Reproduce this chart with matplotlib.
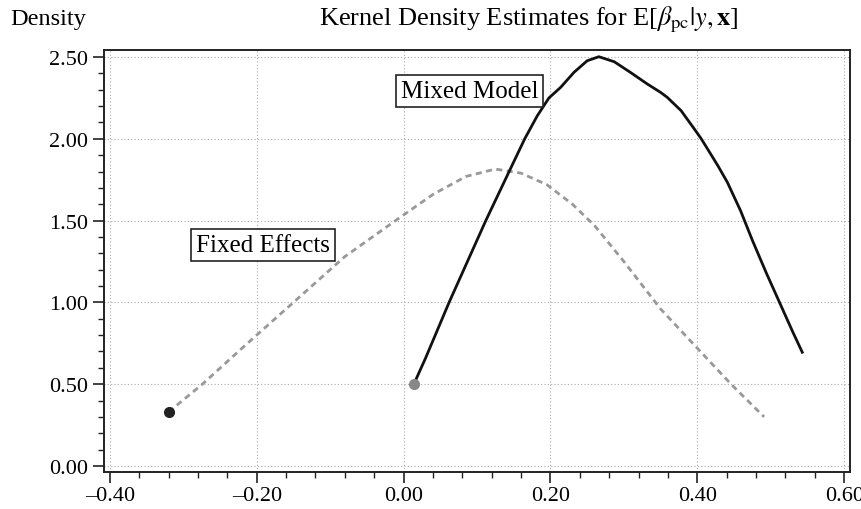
import numpy as np
import matplotlib.pyplot as plt
from matplotlib.ticker import MultipleLocator, FuncFormatter

plt.rcParams['font.family'] = ['Liberation Serif', 'DejaVu Serif']
plt.rcParams['mathtext.fontset'] = 'stix'

# values
fixed_x = [-0.320, -0.274, -0.220, -0.150, -0.080, -0.011, 0.040, 0.085,
           0.125, 0.160, 0.195, 0.230, 0.260, 0.300, 0.350, 0.400, 0.446, 0.491]
fixed_y = [0.33, 0.50, 0.72, 1.00, 1.28, 1.50, 1.66, 1.77,
           1.815, 1.79, 1.72, 1.60, 1.47, 1.25, 0.96, 0.72, 0.50, 0.30]

mixed_x = [0.014, 0.030, 0.046, 0.062, 0.080, 0.096, 0.112, 0.130, 0.148, 0.165,
           0.182, 0.198, 0.214, 0.232, 0.250, 0.266, 0.287, 0.309, 0.332, 0.350,
           0.359, 0.378, 0.396, 0.405, 0.414, 0.428, 0.441, 0.459, 0.475, 0.494,
           0.514, 0.530, 0.543]
mixed_y = [0.50, 0.66, 0.83, 1.00, 1.18, 1.34, 1.50, 1.67, 1.84, 2.00,
           2.14, 2.25, 2.315, 2.406, 2.477, 2.502, 2.471, 2.406, 2.335, 2.284,
           2.254, 2.172, 2.06, 2.003, 1.938, 1.836, 1.734, 1.56, 1.38, 1.18,
           0.98, 0.82, 0.695]


def dash_fmt(v, pos):
    return ('%.2f' % v).replace('-', '\u2013')


fig = plt.figure(figsize=(8.62, 5.10), dpi=100)
ax = fig.add_axes([104 / 862, 1 - 473 / 510, 746 / 862, 422 / 510])

ax.plot(fixed_x, fixed_y, color='#999999', lw=2.0, ls=(0, (2.2, 1.6)))
ax.plot(fixed_x[0], fixed_y[0], 'o', color='#222222', ms=7)
ax.plot(mixed_x, mixed_y, color='#111111', lw=2.0, solid_joinstyle='round')
ax.plot(mixed_x[0], mixed_y[0], 'o', color='#888888', ms=7)

ax.set_xlim(-0.408, 0.608)
ax.set_ylim(-0.037, 2.543)
ax.xaxis.set_major_locator(MultipleLocator(0.2))
ax.xaxis.set_minor_locator(MultipleLocator(0.04))
ax.yaxis.set_major_locator(MultipleLocator(0.5))
ax.yaxis.set_minor_locator(MultipleLocator(0.1))
ax.xaxis.set_major_formatter(FuncFormatter(dash_fmt))
ax.yaxis.set_major_formatter(FuncFormatter(dash_fmt))
ax.tick_params(which='major', length=8, width=1.2, labelsize=16, color='#222222')
ax.tick_params(which='minor', length=4, width=1.0, color='#222222')
ax.tick_params(axis='x', which='both', pad=2)
for s in ax.spines.values():
    s.set_linewidth(1.4)
    s.set_color('#222222')

ax.grid(True, which='major', ls=(0, (1, 2)), color='#aaaaaa', lw=0.8)

box = dict(boxstyle='square,pad=0.2', fc='white', ec='#222222', lw=1.2)
ax.text(0.09, 2.29, 'Mixed Model', ha='center', va='center', fontsize=18, bbox=box)
ax.text(-0.191, 1.35, 'Fixed Effects', ha='center', va='center', fontsize=18, bbox=box)

fig.text(10 / 862, 1 - 20 / 510, 'Density', ha='left', va='center', fontsize=17.5)
fig.text(529 / 862, 1 - 20 / 510,
         r'Kernel Density Estimates for E[$\beta_{\rm pc}|y, \mathbf{x}$]',
         ha='center', va='center', fontsize=19)

fig.savefig('out.png', dpi=100)
